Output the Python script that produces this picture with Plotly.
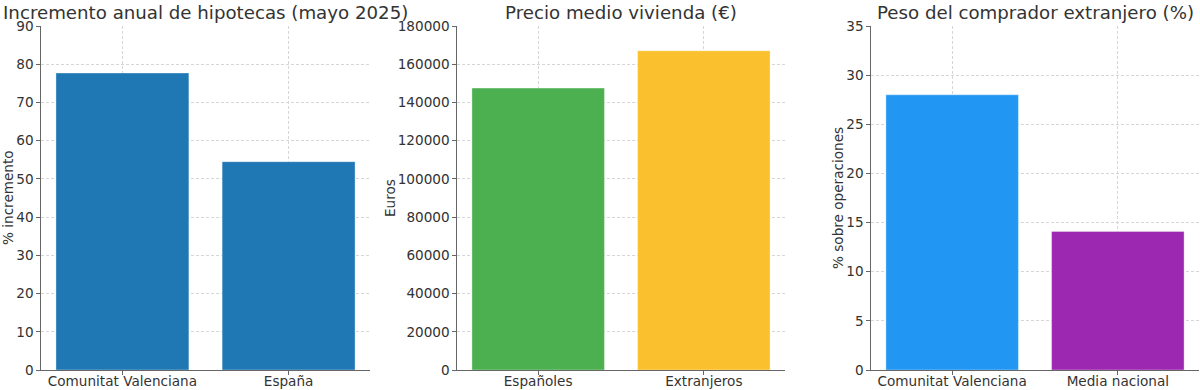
import plotly.graph_objects as go

# Data
cat1 = ["Comunitat Valenciana", "España"]
val1 = [77.7, 54.5]
cat2 = ["Españoles", "Extranjeros"]
val2 = [147500, 167000]
cat3 = ["Comunitat Valenciana", "Media nacional"]
val3 = [28.0, 14.1]

titles = ["Incremento anual de hipotecas (mayo 2025)", "Precio medio vivienda (€)",
          "Peso del comprador extranjero (%)"]
ytitles = ["% incremento", "Euros", "% sobre operaciones"]
colors1 = ["#1f77b4", "#1f77b4"]
colors2 = ["#4caf50", "#fbc02d"]
colors3 = ["#2196f3", "#9c27b0"]

W, H = 1200, 390
FONT = "DejaVu Sans"
TXT = "#333333"

px_x = [(41, 370), (457, 785), (871, 1199)]
top_px, bot_px = 26, 370
ydom = [(H - bot_px) / H, (H - top_px) / H]

fig = go.Figure()
data = [(cat1, val1, colors1), (cat2, val2, colors2), (cat3, val3, colors3)]
yranges = [[0, 90], [0, 180000], [0, 35]]
ydticks = [10, 20000, 5]
ytitle_x = [8, 390, 838]

for i, (c, v, col) in enumerate(data):
    n = "" if i == 0 else str(i + 1)
    fig.add_trace(go.Bar(x=c, y=v, marker=dict(color=col, line=dict(width=0.6, color="rgba(255,255,255,0.6)")),
                         width=0.8, xaxis="x" + n, yaxis="y" + n, showlegend=False, hoverinfo="skip"))
    dom = [px_x[i][0] / W, px_x[i][1] / W]
    common = dict(showline=True, linecolor="#666666", linewidth=1.3, ticks="outside", ticklen=3.5,
                  tickwidth=1, tickcolor="#666666", showgrid=True, gridcolor="#d6d6d6",
                  griddash="3px,2px", gridwidth=0.8, zeroline=False, automargin=False,
                  tickfont=dict(family=FONT, size=13.6, color=TXT), mirror=False)
    fig.update_layout(**{
        "xaxis" + n: dict(domain=dom, anchor="y" + n, type="category", range=[-0.49, 1.49],
                          ticklabelstandoff=-5, **common),
        "yaxis" + n: dict(domain=ydom, anchor="x" + n, range=yranges[i], dtick=ydticks[i],
                          tickformat="d", **common),
    })
    fig.add_annotation(text=titles[i], x=(px_x[i][0] + px_x[i][1]) / 2 / W, y=(H - 13) / H,
                       xref="paper", yref="paper", showarrow=False, xanchor="center", yanchor="middle",
                       font=dict(family=FONT, size=18.2, color=TXT))
    fig.add_annotation(text=ytitles[i], x=ytitle_x[i] / W, y=(H - (top_px + bot_px) / 2) / H,
                       xref="paper", yref="paper", showarrow=False, textangle=-90,
                       xanchor="center", yanchor="middle",
                       font=dict(family=FONT, size=13.6, color=TXT))

fig.update_layout(width=W, height=H, margin=dict(l=0, r=0, t=0, b=0),
                  plot_bgcolor="white", paper_bgcolor="white", bargap=0.2)
fig.write_html("out.html", config={"displayModeBar": False},
               post_script="document.body.style.margin='0';document.body.style.overflow='hidden';")
